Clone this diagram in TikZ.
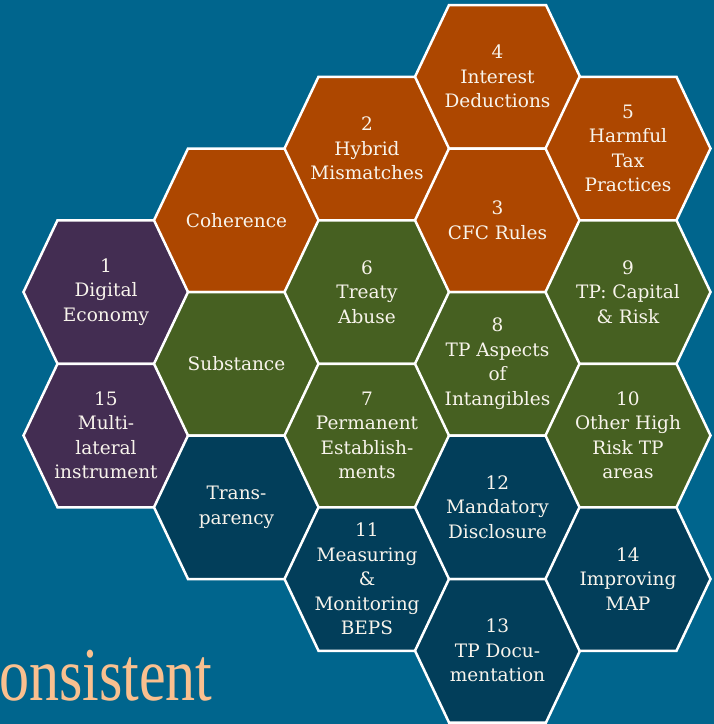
\documentclass[tikz,border=0pt]{standalone}
\usepackage{fontspec}
\setmainfont{DejaVu Serif}
\newfontfamily\titlefont{Liberation Serif}
\usepackage{tikz}
\usetikzlibrary{positioning}
\tikzset{font={\fontsize{18.5pt}{24.5pt}\selectfont}}
\definecolor{bgblue}{RGB}{0,101,141}
\definecolor{rust}{RGB}{173,71,0}
\definecolor{leaf}{RGB}{70,96,33}
\definecolor{plum}{RGB}{67,45,82}
\definecolor{deepsea}{RGB}{2,62,90}
\definecolor{peach}{RGB}{250,192,143}
\definecolor{chalk}{RGB}{248,244,236}

\begin{document}
\begin{tikzpicture}[x=1pt,y=-1pt,
hexcell/.pic={\draw[white,line width=2.5pt,line join=miter,fill=#1]
  (-82.5,0) -- (-48.5,-71.75) -- (48.5,-71.75) -- (82.5,0) -- (48.5,71.75) -- (-48.5,71.75) -- cycle;},
celltext/.style={text=chalk,align=center,inner sep=0pt}
]
\useasboundingbox[fill=bgblue] (0,0) rectangle (714,724);
% honeycomb: column k, row m
\foreach \k/\m/\col/\nm/\txt in {
  0/0/plum/d1/{1\\Digital\\Economy},
  0/1/plum/d15/{15\\Multi-\\lateral\\instrument},
  1/0/rust/coh/{Coherence},
  1/1/leaf/sub/{Substance},
  1/2/deepsea/tra/{Trans-\\parency},
  2/0/rust/d2/{2\\Hybrid\\Mismatches},
  2/1/leaf/d6/{6\\Treaty\\Abuse},
  2/2/leaf/d7/{7\\Permanent\\Establish-\\ments},
  2/3/deepsea/d11/{11\\Measuring\\\&\\Monitoring\\BEPS},
  3/0/rust/d4/{4\\Interest\\Deductions},
  3/1/rust/d3/{3\\CFC Rules},
  3/2/leaf/d8/{8\\TP Aspects\\of\\Intangibles},
  3/3/deepsea/d12/{12\\Mandatory\\Disclosure},
  3/4/deepsea/d13/{13\\TP Docu-\\mentation},
  4/1/rust/d5/{5\\Harmful\\Tax\\Practices},
  4/2/leaf/d9/{9\\TP: Capital\\\& Risk},
  4/3/leaf/d10/{10\\Other High\\Risk TP\\areas},
  4/4/deepsea/d14/{14\\Improving\\MAP}}
{
  \pic at ({106+130.5*\k},{292-71.75*\k+143.5*\m}) {hexcell=\col};
  \node[celltext] (\nm) at ({106+130.5*\k},{292-71.75*\k+143.5*\m}) {\txt};
}

\node[anchor=base west,inner sep=0pt,text=peach,xscale=0.79] (word) at (-1,700)
  {\titlefont\fontsize{76pt}{80pt}\selectfont onsistent};

\end{tikzpicture}
\end{document}
